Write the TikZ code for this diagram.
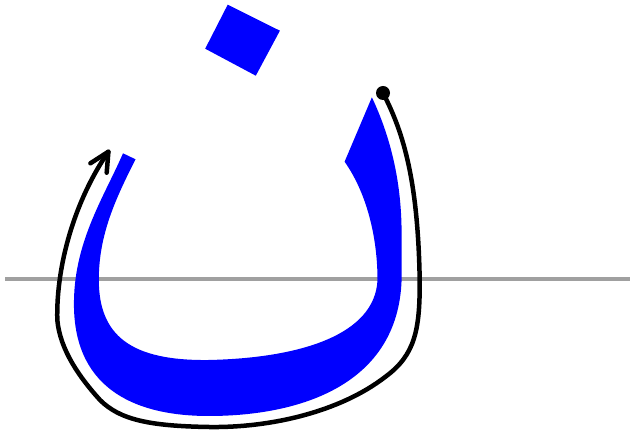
\documentclass[tikz,border=0pt]{standalone}
\definecolor{glyph}{RGB}{0,0,255}
\definecolor{baseline}{RGB}{160,160,160}
\tikzset{
  glyphfill/.style={fill=glyph},
  baselinestyle/.style={draw=baseline, line width=4.5pt},
  strokepath/.style={draw=black, line width=4.5pt, line cap=round, line join=round},
}
\begin{document}
\begin{tikzpicture}[x=1pt,y=-1pt]
\useasboundingbox (0,0) rectangle (630,435);
% baseline
\draw[baselinestyle] (5,279) -- (630,279);
% dot (diamond)
\fill[glyphfill] (227.7,4.7) -- (279.9,30.7) -- (255.8,75.7) -- (205.2,48.7) -- cycle;
% body
\fill[glyphfill] (123,153.3)
  .. controls (105,195) and (75,240) .. (74,300)
  .. controls (72,385) and (130,416) .. (208.8,416)
  .. controls (300,416) and (398,385) .. (401.6,280)
  -- (401.6,233)
  .. controls (401.5,185) and (392,140) .. (371.9,97.3)
  -- (344.6,161.7)
  .. controls (368,195) and (377.5,240) .. (377.5,280)
  .. controls (375,335) and (300,358) .. (208.8,360)
  .. controls (130,361) and (99,335) .. (98.8,280)
  .. controls (98.8,235) and (115,200) .. (135.5,159.3)
  -- cycle;
% stroke direction
\coordinate (start) at (383,93);
\coordinate (finish) at (108.4,151.7);
\coordinate (barbL) at (90.4,163.3);
\coordinate (barbR) at (106.7,172.7);
\fill (start) circle (7);
\draw[strokepath] (start)
  .. controls (405,135) and (418,185) .. (419.7,280)
  .. controls (420,330) and (415,355) .. (385.5,376.7)
  .. controls (340,412) and (270,428) .. (208.8,427)
  .. controls (150,426) and (120,420) .. (100,400)
  .. controls (80,378) and (60,350) .. (57.3,320)
  .. controls (56,265) and (75,200) .. (finish);
\draw[strokepath] (barbL) -- (finish) -- (barbR);
\end{tikzpicture}
\end{document}
